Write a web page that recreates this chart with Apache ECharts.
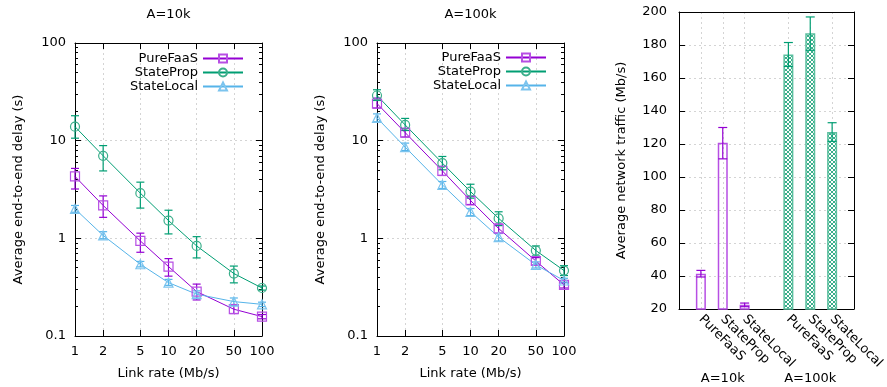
<!DOCTYPE html>
<html><head><meta charset="utf-8">
<script src="https://cdn.jsdelivr.net/npm/echarts@6/dist/echarts.min.js"></script>
<style>html,body{margin:0;padding:0;background:#fff}#c{width:887px;height:387px}</style>
</head><body><div id="c"></div>
<script>
// ---------- data ----------
const rates = [1, 2, 5, 10, 20, 50, 100];
const xTickValues = [1, 2, 5, 10, 20, 50, 100];
const yMajorTicks = [0.1, 1, 10, 100];
const yMinorTicks = [0.2,0.3,0.4,0.5,0.6,0.7,0.8,0.9,2,3,4,5,6,7,8,9,20,30,40,50,60,70,80,90];
const seriesNames = ['PureFaaS', 'StateProp', 'StateLocal'];
const panelTitles = ['A=10k', 'A=100k'];

// A=10k delays (s)
const pureFaaS10 =    [4.3, 2.17, 0.94, 0.514, 0.285, 0.188, 0.158];
const pureFaaS10Lo =  [3.2, 1.64, 0.72, 0.41, 0.234, 0.17, 0.15];
const pureFaaS10Hi =  [5.2, 2.72, 1.13, 0.62, 0.34, 0.21, 0.166];
const stateProp10 =   [13.9, 7.0, 2.9, 1.52, 0.836, 0.436, 0.31];
const stateProp10Lo = [10.6, 4.9, 2.04, 1.11, 0.63, 0.35, 0.295];
const stateProp10Hi = [18, 8.9, 3.76, 1.94, 1.04, 0.52, 0.325];
const stateLocal10 =   [2.0, 1.07, 0.543, 0.352, 0.268, 0.225, 0.211];
const stateLocal10Lo = [1.85, 0.99, 0.51, 0.33, 0.245, 0.205, 0.2];
const stateLocal10Hi = [2.17, 1.17, 0.58, 0.38, 0.29, 0.245, 0.222];

// A=100k delays (s)
const pureFaaS100 =    [24, 12.1, 4.91, 2.44, 1.26, 0.586, 0.333];
const pureFaaS100Lo =  [21.6, 10.9, 4.4, 2.22, 1.13, 0.533, 0.31];
const pureFaaS100Hi =  [27.3, 13.3, 5.45, 2.68, 1.40, 0.635, 0.355];
const stateProp100 =   [29, 14.5, 5.89, 3.01, 1.6, 0.75, 0.468];
const stateProp100Lo = [25.8, 12.7, 5.03, 2.58, 1.35, 0.66, 0.416];
const stateProp100Hi = [33.2, 16.9, 6.89, 3.58, 1.87, 0.836, 0.525];
const stateLocal100 =   [17.1, 8.6, 3.53, 1.87, 1.03, 0.535, 0.37];
const stateLocal100Lo = [15.6, 7.93, 3.24, 1.71, 0.94, 0.497, 0.35];
const stateLocal100Hi = [18.8, 9.44, 3.82, 2.02, 1.12, 0.574, 0.39];

// network traffic (Mb/s)
const barCategories = ['', 'PureFaaS', 'StateProp', 'StateLocal', '', 'PureFaaS', 'StateProp', 'StateLocal', ''];
const groupLabels =   ['', '', 'A=10k', '', '', '', 'A=100k', '', ''];
const traffic10k =   [null, 41.4, 120.8, 22.6, null, null, null, null, null];
const traffic10kLo = [null, 39.4, 111, 21.4, null, null, null, null, null];
const traffic10kHi = [null, 43.4, 130, 23.6, null, null, null, null, null];
const traffic100k =   [null, null, null, null, null, 174.2, 187.1, 127.2, null];
const traffic100kLo = [null, null, null, null, null, 167, 176.8, 121.6, null];
const traffic100kHi = [null, null, null, null, null, 181.5, 197, 132.9, null];
const trafficTicksMin = 20, trafficTicksMax = 200, trafficTickStep = 20;

// ---------- styles ----------
const FONT = 'DejaVu Sans';
const lineColors = ['#9400d3', '#009e73', '#56b4e9'];
const markColors = ['#b74fe4', '#3aae8a', '#7cc4ee'];
const symbols = ['rect', 'circle', 'triangle'];
const gridColor = '#d4d4d4';

function pattern() {
  const c = document.createElement('canvas'); c.width = 4; c.height = 4;
  const g = c.getContext('2d');
  g.fillStyle = '#ffffff'; g.fillRect(0, 0, 4, 4);
  g.fillStyle = '#3aae8a';
  [[0,0],[1,1],[2,2],[3,3],[3,0],[2,1],[1,2],[0,3]].forEach(p => g.fillRect(p[0], p[1], 1, 1));
  return c;
}

function errRender(color, cap) {
  return function (params, api) {
    const x = api.value(0), lo = api.value(2), hi = api.value(3);
    if (lo == null || isNaN(lo)) return;
    const a = api.coord([x, lo]), b = api.coord([x, hi]);
    const s = { stroke: color, lineWidth: 1.2 };
    return { type: 'group', children: [
      { type: 'line', shape: { x1: a[0], y1: a[1], x2: b[0], y2: b[1] }, style: s },
      { type: 'line', shape: { x1: a[0]-cap, y1: a[1], x2: a[0]+cap, y2: a[1] }, style: s },
      { type: 'line', shape: { x1: b[0]-cap, y1: b[1], x2: b[0]+cap, y2: b[1] }, style: s }
    ]};
  };
}

const axisLine = { show: true, onZero: false, lineStyle: { color: '#000', width: 1 } };
const txt = { fontFamily: FONT, fontSize: 13, color: '#000' };

const grids = [
  { left: 75, top: 43, width: 187, height: 293 },
  { left: 377, top: 43, width: 187, height: 293 },
  { left: 679, top: 12, width: 178, height: 297 }
];

const xAxes = [], yAxes = [], series = [];

function logPanel(gi, data) {
  const xb = xAxes.length;
  xAxes.push({
    type: 'log', gridIndex: gi, min: 1, max: 100, position: 'bottom',
    axisLine, axisTick: { inside: true, length: 6, customValues: xTickValues, lineStyle: { color: '#000' } },
    axisLabel: { ...txt, margin: 9, customValues: xTickValues, showMinLabel: true, showMaxLabel: true },
    splitLine: { show: true, lineStyle: { color: gridColor, type: [2, 3], width: 1 } },
    name: 'Link rate (Mb/s)', nameLocation: 'middle', nameGap: 31, nameTextStyle: txt
  });
  xAxes.push({
    type: 'log', gridIndex: gi, min: 1, max: 100, position: 'top',
    axisLine, axisTick: { inside: true, length: 6, customValues: xTickValues, lineStyle: { color: '#000' } },
    axisLabel: { show: false }, splitLine: { show: false }
  });
  const yb = yAxes.length;
  ['left', 'right'].forEach(pos => {
    yAxes.push({
      type: 'log', gridIndex: gi, min: 0.1, max: 100, position: pos,
      axisLine, axisTick: { inside: true, length: 6, customValues: yMajorTicks, lineStyle: { color: '#000' } },
      axisLabel: pos === 'left' ? { ...txt, margin: 9, customValues: yMajorTicks, showMinLabel: true, showMaxLabel: true } : { show: false },
      splitLine: { show: pos === 'left', lineStyle: { color: gridColor, type: [2, 3], width: 1 } },
      name: pos === 'left' ? 'Average end-to-end delay (s)' : '', nameLocation: 'middle', nameGap: 50, nameTextStyle: txt
    });
    yAxes.push({
      type: 'log', gridIndex: gi, min: 0.1, max: 100, position: pos,
      axisLine: { show: false }, axisTick: { inside: true, length: 3, customValues: yMinorTicks, lineStyle: { color: '#000' } },
      axisLabel: { show: false }, splitLine: { show: false }
    });
  });
  data.forEach((d, i) => {
    series.push({
      type: 'custom', xAxisIndex: xb, yAxisIndex: yb, renderItem: errRender(lineColors[i], 4),
      encode: { x: 0, y: [1, 2, 3] }, silent: true, z: 2,
      data: rates.map((r, k) => [r, d.v[k], d.lo[k], d.hi[k]])
    });
    series.push({
      type: 'line', name: seriesNames[i], xAxisIndex: xb, yAxisIndex: yb, z: 3,
      symbol: symbols[i], symbolSize: 9, showAllSymbol: true,
      lineStyle: { color: lineColors[i], width: 1 },
      itemStyle: { color: 'rgba(0,0,0,0)', borderColor: markColors[i], borderWidth: 1.2 },
      data: rates.map((r, k) => [r, d.v[k]])
    });
  });
}

logPanel(0, [
  { v: pureFaaS10, lo: pureFaaS10Lo, hi: pureFaaS10Hi },
  { v: stateProp10, lo: stateProp10Lo, hi: stateProp10Hi },
  { v: stateLocal10, lo: stateLocal10Lo, hi: stateLocal10Hi }
]);
logPanel(1, [
  { v: pureFaaS100, lo: pureFaaS100Lo, hi: pureFaaS100Hi },
  { v: stateProp100, lo: stateProp100Lo, hi: stateProp100Hi },
  { v: stateLocal100, lo: stateLocal100Lo, hi: stateLocal100Hi }
]);

// bar panel
const bx = xAxes.length;
const catInterval = (idx, val) => val !== '';
xAxes.push({
  type: 'category', gridIndex: 2, data: barCategories, boundaryGap: false, position: 'bottom',
  axisLine, axisTick: { show: false },
  axisLabel: { ...txt, rotate: -45, margin: 8, interval: 0 },
  splitLine: { show: true, interval: catInterval, lineStyle: { color: gridColor, type: [2, 3], width: 1 } }
});
xAxes.push({
  type: 'category', gridIndex: 2, data: groupLabels, boundaryGap: false, position: 'bottom',
  axisLine: { show: false }, axisTick: { show: false },
  axisLabel: { ...txt, margin: 63, interval: 0 }, splitLine: { show: false }
});
xAxes.push({
  type: 'category', gridIndex: 2, data: barCategories, boundaryGap: false, position: 'top',
  axisLine, axisTick: { show: false }, axisLabel: { show: false }, splitLine: { show: false }
});
const by = yAxes.length;
['left', 'right'].forEach(pos => {
  yAxes.push({
    type: 'value', gridIndex: 2, min: trafficTicksMin, max: trafficTicksMax, interval: trafficTickStep, position: pos,
    axisLine, axisTick: { show: true, inside: true, length: 6, lineStyle: { color: '#000' } },
    axisLabel: pos === 'left' ? { ...txt, margin: 12 } : { show: false },
    splitLine: { show: pos === 'left', lineStyle: { color: gridColor, type: [2, 3], width: 1 } },
    name: pos === 'left' ? 'Average network traffic (Mb/s)' : '', nameLocation: 'middle', nameGap: 51, nameTextStyle: txt
  });
});
series.push({
  type: 'bar', name: 'A=10k', xAxisIndex: bx, yAxisIndex: by, barWidth: 10, barGap: '-100%', z: 2,
  itemStyle: { color: 'rgba(0,0,0,0)', borderColor: '#b74fe4', borderWidth: 1.5 },
  data: traffic10k
});
series.push({
  type: 'bar', name: 'A=100k', xAxisIndex: bx, yAxisIndex: by, barWidth: 10, barGap: '-100%', z: 2,
  itemStyle: { color: { image: pattern(), repeat: 'repeat' }, borderColor: '#5cbf9f', borderWidth: 1.5 },
  data: traffic100k
});
series.push({
  type: 'custom', xAxisIndex: bx, yAxisIndex: by, renderItem: errRender('#9400d3', 4.5),
  encode: { x: 0, y: [1, 2, 3] }, silent: true, z: 4,
  data: barCategories.map((c, k) => [k, traffic10k[k], traffic10kLo[k], traffic10kHi[k]]).filter(d => d[1] != null)
});
series.push({
  type: 'custom', xAxisIndex: bx, yAxisIndex: by, renderItem: errRender('#009e73', 4.5),
  encode: { x: 0, y: [1, 2, 3] }, silent: true, z: 4,
  data: barCategories.map((c, k) => [k, traffic100k[k], traffic100kLo[k], traffic100kHi[k]]).filter(d => d[1] != null)
});

const legendBase = {
  orient: 'vertical', align: 'right', itemWidth: 40, itemHeight: 10, itemGap: 1, padding: 0,
  textStyle: txt, data: seriesNames, selectedMode: false
};

const option = {
  animation: false,
  backgroundColor: '#fff',
  textStyle: { fontFamily: FONT },
  title: [
    { text: panelTitles[0], left: 168.5, top: 8, textAlign: 'center', textStyle: { ...txt, fontWeight: 'normal' }, padding: 0 },
    { text: panelTitles[1], left: 470.5, top: 8, textAlign: 'center', textStyle: { ...txt, fontWeight: 'normal' }, padding: 0 }
  ],
  legend: [
    { ...legendBase, right: 643, top: 52 },
    { ...legendBase, right: 340, top: 51 }
  ],
  grid: grids,
  xAxis: xAxes,
  yAxis: yAxes,
  series
};

const chart = echarts.init(document.getElementById('c'), null, { renderer: 'canvas' });
chart.setOption(option);
</script>
</body></html>
